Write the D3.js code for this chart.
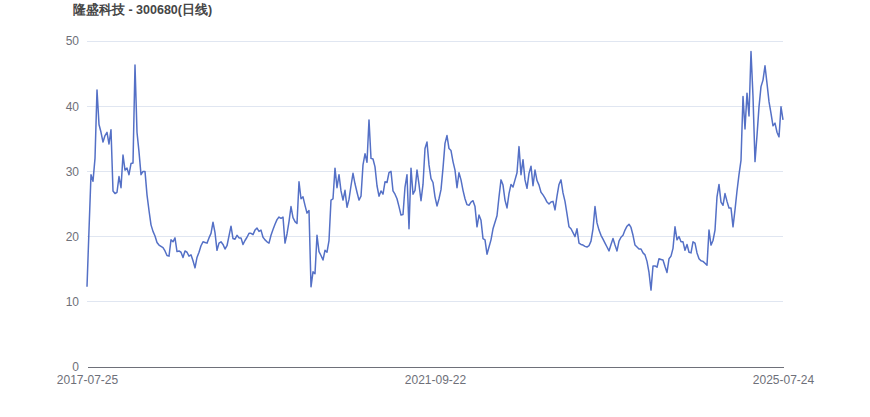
<!DOCTYPE html>
<html>
<head>
<meta charset="utf-8">
<script src="https://cdn.jsdelivr.net/npm/d3@7"></script>
<style>
  html, body { margin: 0; padding: 0; background: #fff; }
  svg { display: block; font-family: "Liberation Sans", Arial, sans-serif; }
</style>
</head>
<body>
<svg id="chart" width="870" height="417"></svg>
<script>
const title = "隆盛科技 - 300680(日线)";
const xTickLabels = ["2017-07-25", "2021-09-22", "2025-07-24"];
const yTicks = [0, 10, 20, 30, 40, 50];
const closePrices = [
  12.3, 21, 29.5, 28.5, 32, 42.5, 37.2, 36, 34.5, 35.5,
  36, 34.2, 36.4, 27, 26.6, 26.8, 29.2, 27.5, 32.5, 30.2,
  30.5, 29.5, 31.2, 31.3, 46.3, 36, 33, 29.5, 30, 30,
  26.4, 24, 21.8, 20.8, 20.1, 19.1, 18.7, 18.5, 18.3, 17.8,
  17.1, 17, 19.5, 19.2, 19.8, 17.7, 17.8, 17.6, 16.8, 17.8,
  17.6, 17, 17.2, 16.3, 15.2, 16.8, 17.6, 18.6, 19.2, 19.1,
  19, 19.8, 20.5, 22.2, 20.6, 17.9, 19, 19.2, 18.8, 18.1,
  18.6, 20.1, 21.6, 19.7, 19.6, 20.2, 19.8, 19.8, 18.8, 19.4,
  19.9, 20.5, 20.5, 20.3, 21, 21.3, 20.8, 21, 19.9, 19.5,
  19.2, 19, 20.2, 21.1, 21.9, 22.6, 23, 22.8, 23, 19,
  20.4, 22.3, 24.6, 22.9, 22.3, 22, 28.4, 25.8, 26.1, 24.8,
  23.6, 24, 12.3, 14.6, 14.3, 20.2, 17.7, 17.1, 16.4, 17.9,
  17.6, 19.4, 25.6, 25.8, 30.5, 27.5, 29.5, 27, 25.6, 27.1,
  24.5, 25.7, 27.8, 29.7, 28.1, 26.8, 25.6, 26.2, 31, 32.7,
  31.4, 37.9, 32, 31.9, 30.7, 27.8, 26.2, 27, 26.5, 28.4,
  28.3, 29.8, 30, 27, 26.5, 25.8, 24.6, 23.3, 23.4, 27.6,
  29.5, 21.2, 30.5, 26.5, 27.1, 30.2, 28, 25.5, 28, 33.5,
  34.5, 31, 28.9, 28.3, 26.1, 24.7, 25.8, 27.2, 30.5, 34.3,
  35.5, 33.5, 33.2, 31.5, 30.2, 27.5, 29.8, 28.7, 27.1, 25.8,
  24.9, 24.8, 25.3, 25.5, 24.6, 21.5, 23.3, 22.5, 19.7, 19.5,
  17.3, 18.4, 19.5, 21.2, 22.2, 23.2, 26.1, 28.7, 27.9, 25.6,
  24.4, 26.6, 28, 27.6, 28.7, 29.8, 33.8, 29.5, 31.8, 28.7,
  27.4, 29.7, 30.8, 27.8, 30.2, 28.6, 27.9, 26.8, 26.4, 25.9,
  25.3, 25, 25.3, 25.4, 24.1, 26.2, 28, 28.7, 26.7, 25.4,
  23.5, 21.5, 21.2, 20.6, 20, 21.2, 19, 18.8, 18.7, 18.5,
  18.4, 18.6, 19.3, 21.2, 24.6, 22.1, 21, 20.2, 19.6, 19,
  18.4, 17.8, 18.8, 19.7, 18.7, 17.8, 19.3, 19.9, 20.2, 21,
  21.6, 21.9, 21.4, 20.2, 18.7, 18.4, 18.1, 18.1, 17.5, 17.2,
  16.2, 14.5, 11.8, 15.5, 15.5, 15.3, 16.6, 16.5, 16.4, 15.4,
  14.5, 16.6, 17, 18.2, 21.5, 19.5, 20, 19.2, 19.2, 17.9,
  18.8, 17.6, 17.5, 19.2, 19, 17.5, 16.6, 16.3, 16.2, 15.9,
  15.6, 21, 18.7, 19.4, 21, 26.1, 28, 25.3, 24.8, 26.6,
  25.4, 24.4, 24.4, 21.5, 24.1, 27, 29.5, 31.7, 41.5, 36.5,
  42, 38.5, 48.4, 41.5, 31.5, 35.5, 39.9, 43, 44, 46.2,
  43.5, 40.7, 38.9, 37, 37.4, 36, 35.3, 39.9, 37.9
];

const W = 870, H = 417;
const margin = { left: 87, right: 87, top: 41, bottom: 50 };
const svg = d3.select("#chart");

const idx = d3.range(closePrices.length);
const x = d3.scalePoint().domain(idx).range([margin.left, W - margin.right]);
const y = d3.scaleLinear().domain([0, 50]).range([H - margin.bottom, margin.top]);

// grid lines
svg.append("g")
  .selectAll("line")
  .data(yTicks.filter(d => d !== 0))
  .join("line")
  .attr("x1", margin.left).attr("x2", W - margin.right)
  .attr("y1", d => y(d)).attr("y2", d => y(d))
  .attr("stroke", "#E0E6F1").attr("stroke-width", 1)
  .attr("shape-rendering", "crispEdges");

// y axis labels
const yAxis = d3.axisLeft(y).tickValues(yTicks).tickSize(0).tickPadding(8);
const gy = svg.append("g").attr("transform", `translate(${margin.left},0)`).call(yAxis);
gy.select(".domain").remove();
gy.selectAll("text").attr("fill", "#6E7079").style("font-size", "12px");

// x axis
const xTickIdx = [0, Math.floor((closePrices.length - 1) / 2), closePrices.length - 1];
const xAxis = d3.axisBottom(x).tickValues(xTickIdx)
  .tickFormat((d, i) => xTickLabels[i]).tickSize(0).tickPadding(8);
const gx = svg.append("g").attr("transform", `translate(0,${H - margin.bottom})`).call(xAxis);
gx.select(".domain").attr("stroke", "#6E7079").attr("shape-rendering", "crispEdges");
gx.selectAll("text").attr("fill", "#6E7079").style("font-size", "12px");

// line
const line = d3.line().x((d, i) => x(i)).y(d => y(d));
svg.append("path")
  .datum(closePrices)
  .attr("d", line)
  .attr("fill", "none")
  .attr("stroke", "#5470C6")
  .attr("stroke-width", 1.5)
  .attr("stroke-linejoin", "round");

// title
svg.append("text")
  .attr("x", 73).attr("y", 14)
  .attr("fill", "#464646")
  .style("font-size", "12.5px")
  .style("font-weight", "bold")
  .text(title);
</script>
</body>
</html>
